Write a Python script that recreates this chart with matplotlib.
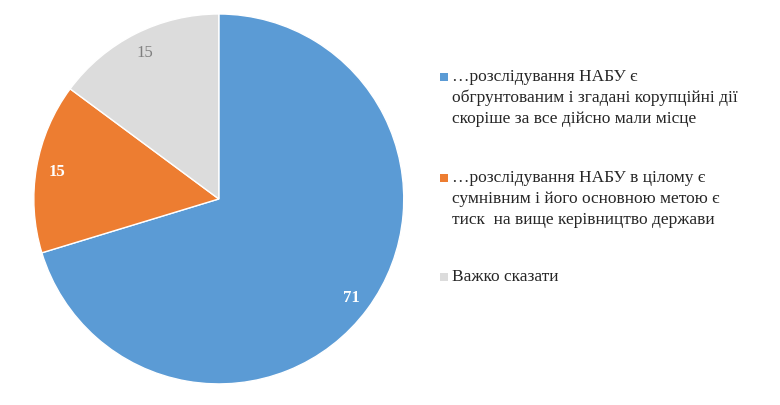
import matplotlib.pyplot as plt

# --- Data
labels = ['…розслідування НАБУ є\nобгрунтованим і згадані корупційні дії\nскоріше за все дійсно мали місце',
          '…розслідування НАБУ в цілому є\nсумнівним і його основною метою є\nтиск  на вище керівництво держави',
          'Важко сказати']
values = [71, 15, 15]
colors = ['#5b9bd5', '#ed7d31', '#dcdcdc']
label_colors = ['white', 'white', '#7f7f7f']
label_weights = ['bold', 'bold', 'normal']

plt.rcParams['font.family'] = ['Liberation Serif', 'DejaVu Serif']

fig = plt.figure(figsize=(7.8, 4.06), dpi=100)
ax = fig.add_axes([0.041, 0.047, 0.479, 0.921])
wedges, texts, pcts = ax.pie(values, colors=colors, startangle=90, counterclock=False,
                             autopct='%d', pctdistance=0.89,
                             wedgeprops=dict(edgecolor='white', linewidth=1))
for t, v, c, w in zip(pcts, values, label_colors, label_weights):
    t.set_text(str(v))
    t.set_color(c)
    t.set_fontweight(w)
    t.set_fontsize(12)
ax.set_aspect('equal')
ax.set_xlim(-1.01, 1.01)
ax.set_ylim(-1.01, 1.01)

# --- Legend
ys = [98, 199, 277]
for lab, col, y in zip(labels, colors, ys):
    fig.patches.append(plt.Rectangle((440 / 780, 1 - (y - 21 * (lab.count('\n') > 0) + 5) / 406),
                                     8 / 780, 8 / 406, transform=fig.transFigure,
                                     facecolor=col, edgecolor='none'))
    fig.text(452 / 780, 1 - y / 406, lab, fontsize=12.5, va='center', ha='left',
             linespacing=1.4, color='#262626')

fig.savefig('out.png', dpi=100)
